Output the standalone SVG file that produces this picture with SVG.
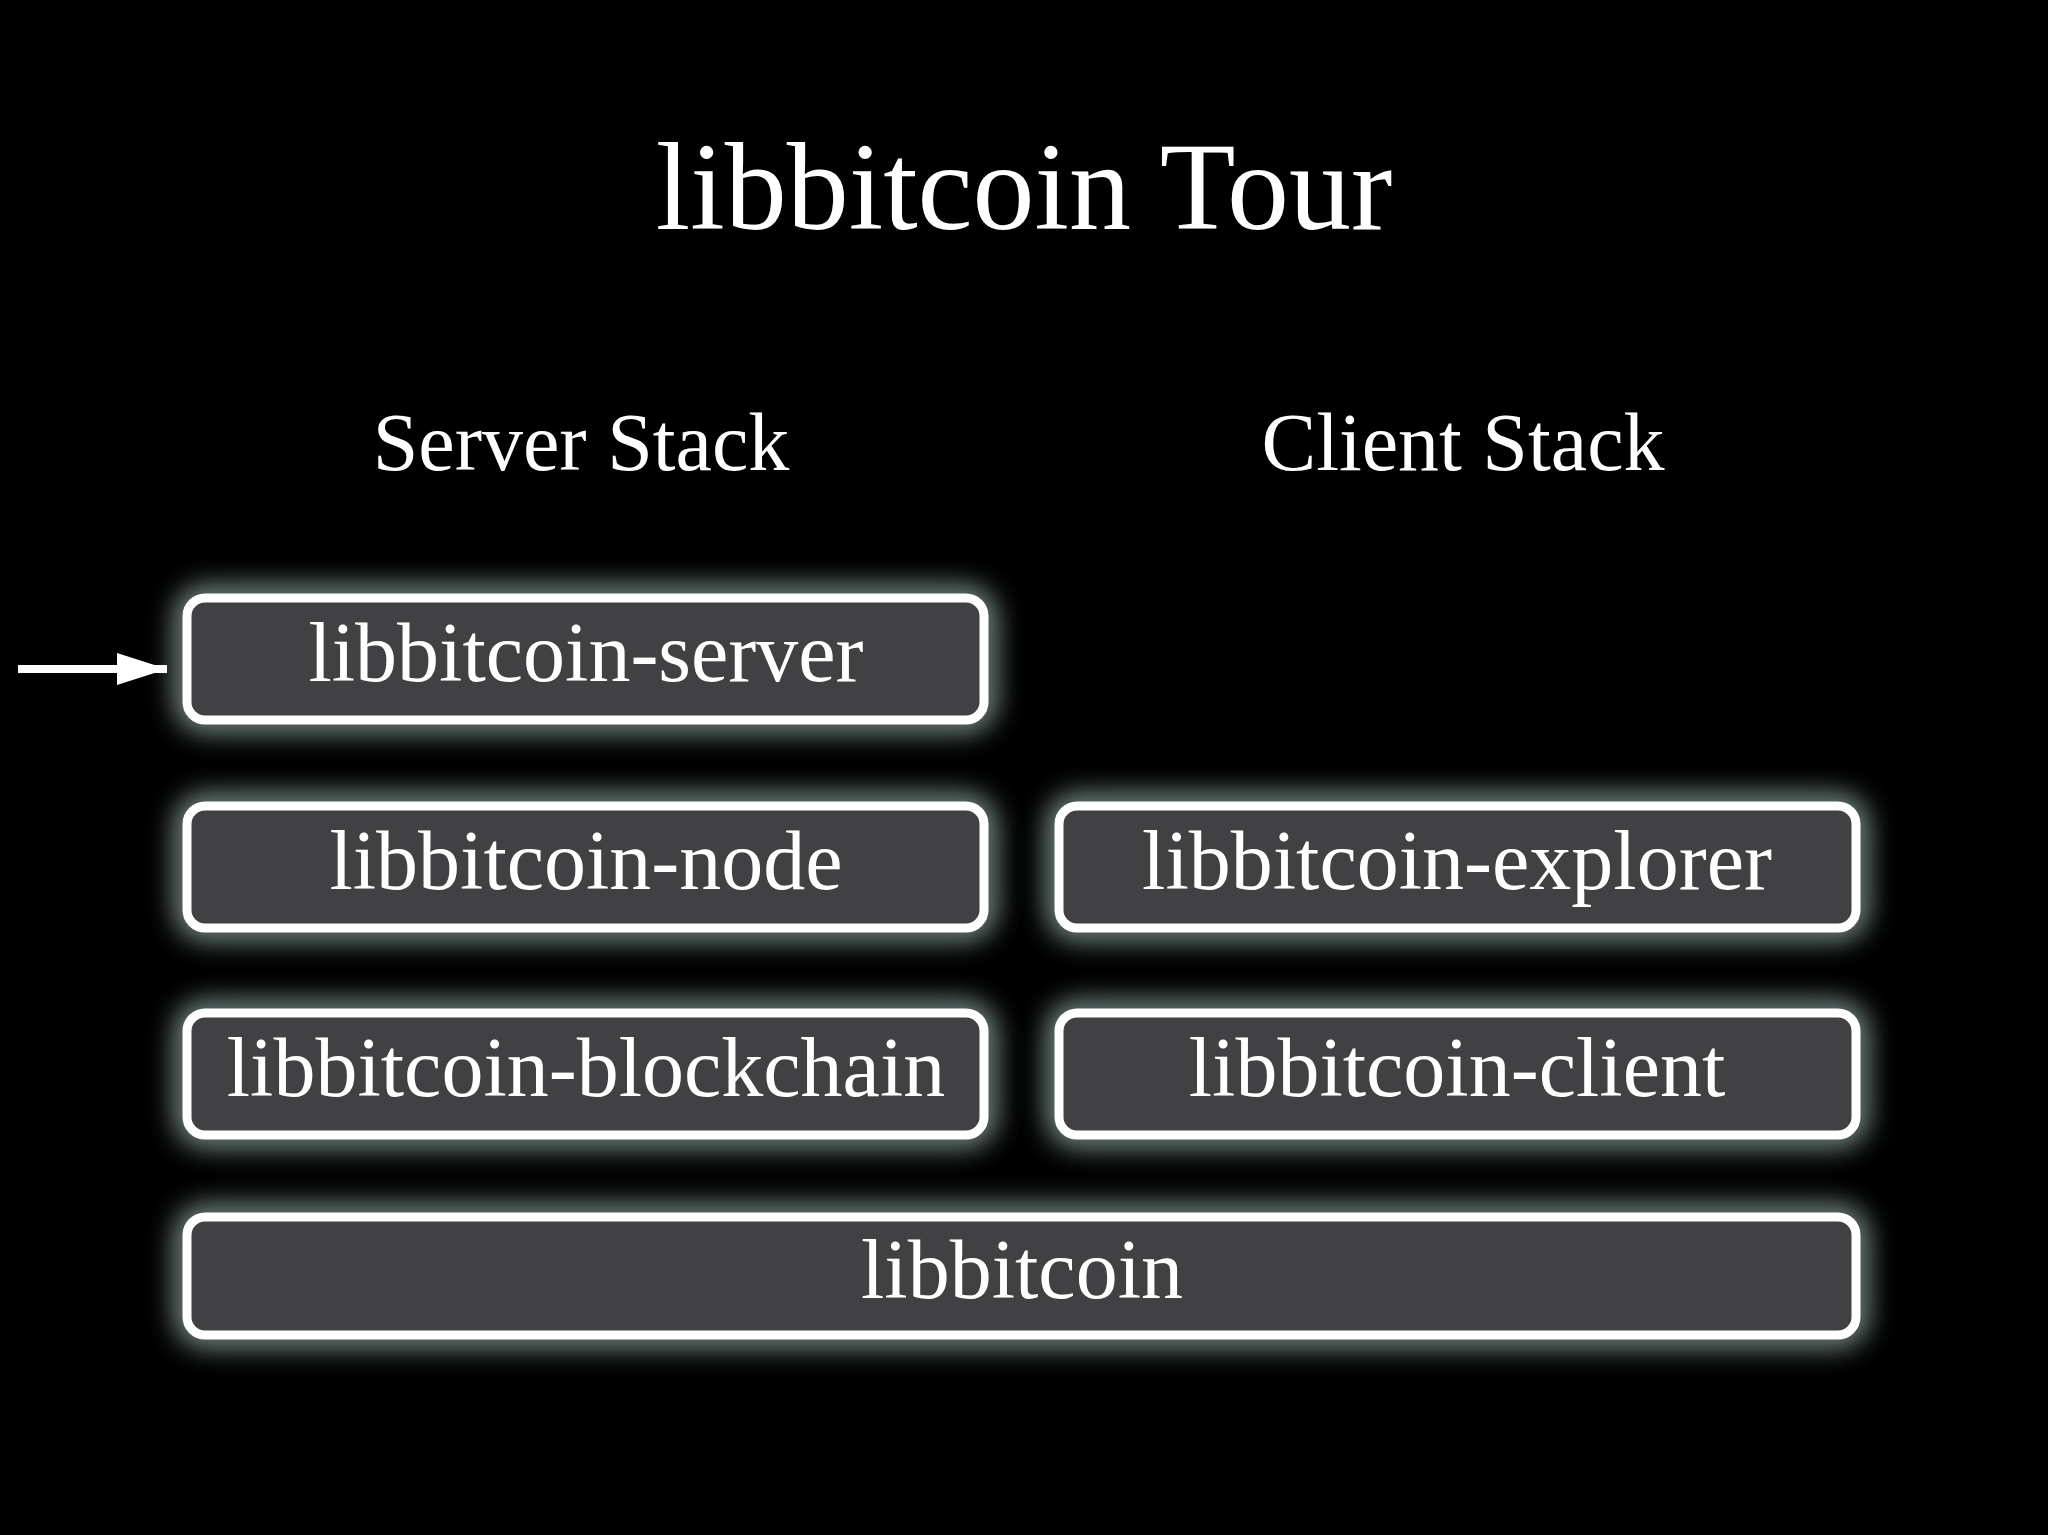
<svg xmlns="http://www.w3.org/2000/svg" width="2048" height="1535" viewBox="0 0 2048 1535">
<defs>
<filter id="glow" x="-20%" y="-80%" width="140%" height="260%">
<feGaussianBlur stdDeviation="14"/>
</filter>
<marker id="arrowhead" markerWidth="52" markerHeight="34" refX="50" refY="16" orient="auto" markerUnits="userSpaceOnUse">
<polygon points="0,0 50,16 0,32" fill="#ffffff"/>
</marker>
</defs>
<style>
.glow{fill:none;stroke:#c4e6df;stroke-width:20;opacity:0.8;filter:url(#glow)}
.box{fill:#414042;stroke:#ffffff;stroke-width:9}
.lbl{font-family:"Liberation Serif","Times New Roman",serif;font-size:84px;fill:#ffffff;text-anchor:middle}
.head{font-family:"Liberation Serif","Times New Roman",serif;fill:#ffffff;text-anchor:middle}
</style>
<rect x="0" y="0" width="2048" height="1535" fill="#000000"/>
<text class="head" x="1024" y="229" font-size="124">libbitcoin Tour</text>
<text class="head" x="581" y="470" font-size="82">Server Stack</text>
<text class="head" x="1463" y="470" font-size="82">Client Stack</text>
<g id="node-server">
<rect class="glow" x="187" y="598" width="797" height="122" rx="18"/>
<rect class="box" x="187" y="598" width="797" height="122" rx="18"/>
<text class="lbl" x="586" y="681">libbitcoin-server</text>
</g>
<g id="node-node">
<rect class="glow" x="187" y="806" width="797" height="122" rx="18"/>
<rect class="box" x="187" y="806" width="797" height="122" rx="18"/>
<text class="lbl" x="586" y="889">libbitcoin-node</text>
</g>
<g id="node-blockchain">
<rect class="glow" x="187" y="1013" width="797" height="122" rx="18"/>
<rect class="box" x="187" y="1013" width="797" height="122" rx="18"/>
<text class="lbl" x="586" y="1096">libbitcoin-blockchain</text>
</g>
<g id="node-explorer">
<rect class="glow" x="1059" y="806" width="797" height="122" rx="18"/>
<rect class="box" x="1059" y="806" width="797" height="122" rx="18"/>
<text class="lbl" x="1457" y="889">libbitcoin-explorer</text>
</g>
<g id="node-client">
<rect class="glow" x="1059" y="1013" width="797" height="122" rx="18"/>
<rect class="box" x="1059" y="1013" width="797" height="122" rx="18"/>
<text class="lbl" x="1457" y="1096">libbitcoin-client</text>
</g>
<g id="node-libbitcoin">
<rect class="glow" x="187" y="1217" width="1669" height="118" rx="18"/>
<rect class="box" x="187" y="1217" width="1669" height="118" rx="18"/>
<text class="lbl" x="1022" y="1298">libbitcoin</text>
</g>
<g id="connectors">
<line x1="18" y1="669" x2="167" y2="669" stroke="#ffffff" stroke-width="8" marker-end="url(#arrowhead)"/>
</g>
</svg>
